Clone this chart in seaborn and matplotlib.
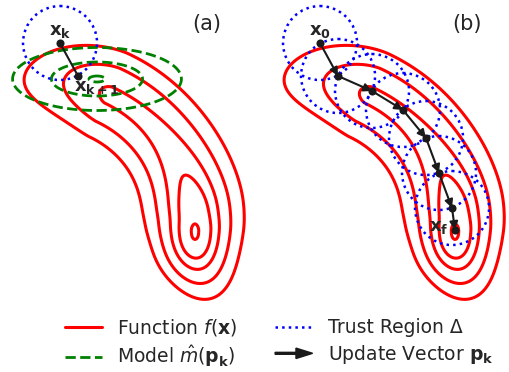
import numpy as np
import matplotlib
matplotlib.use("Agg")
import matplotlib.pyplot as plt
import seaborn as sns
from matplotlib.patches import Circle, FancyArrow
from matplotlib.lines import Line2D
from matplotlib.legend_handler import HandlerPatch

sns.set_theme(style="white")
plt.rcParams["font.family"] = ["DejaVu Sans"]
plt.rcParams["mathtext.fontset"] = "dejavusans"

# Both panels share one local frame (units ~ pixels, y pointing down).
# Objective: a curved valley that follows a circular arc, minimum at its lower end.
arc_center = (45.0, 231.0)
arc_radius = 150.0
f_levels = [16, 289, 676, 1444, 2704]

# Quadratic model built around x_k (panel a)
model_center = (97.0, 79.0)
model_stretch = 2.68
model_levels = [9, 289, 992]

trust_radius = 37.0

# Single step in panel (a): x_k -> x_{k+1}
step_x = [60, 78]
step_y = [43, 76]

# Iterates in panel (b): x_0 ... x_f
path_x = [60, 78, 112, 143, 166, 179, 192, 195]
path_y = [43, 76, 91, 110, 138, 173, 208, 230]

RED, GREEN, BLUE = "#ff0000", "#008000", "#0000ff"


def objective(X, Y):
    cx, cy = arc_center
    r = np.hypot(X - cx, Y - cy)
    theta = np.arctan2(Y - cy, X - cx)
    upper = Y <= cy
    # along-valley coordinate: arc length above the minimum, tangent
    # continuation below it; across-valley offset from the valley floor
    s = np.where(upper, arc_radius * theta,
                 arc_radius * (Y - cy) / np.maximum(X - cx, 5.0))
    sn = np.minimum(s, 0.0)
    sp = np.maximum(s, 0.0)
    d = np.where(upper, r - arc_radius,
                 X - (cx + arc_radius) + 0.001 * sp ** 2)
    width = 0.915 - 0.085 * np.tanh((s - 5.0) / 25.0)
    floor_up = (600.0 * (1 - np.exp(-(sn / 70.3) ** 2))
                + 0.25 * sn ** 2 * np.exp(-(sn / 15.0) ** 2)
                + 2.62 * np.maximum(-sn - 170.0, 0.0) ** 1.5)
    floor_dn = 0.0833 * sp ** 2.47
    return (d / width) ** 2 + floor_up + floor_dn


def model(X, Y):
    mx, my = model_center
    return ((X - mx) / model_stretch) ** 2 + (Y - my) ** 2


gx = np.linspace(-15, 265, 561)
gy = np.linspace(-5, 335, 681)
GX, GY = np.meshgrid(gx, gy)
F = objective(GX, GY)

fig = plt.figure(figsize=(5.10, 3.72), dpi=100)
ax_a = fig.add_axes([0.0, 0.0, 0.5, 1.0])
ax_b = fig.add_axes([0.5, 0.0, 0.5, 1.0])

for ax in (ax_a, ax_b):
    ax.contour(GX, GY, F, levels=f_levels, colors=RED, linewidths=2.2, zorder=1)

# ---- panel (a): one trust-region step
ax_a.contour(GX, GY, model(GX, GY), levels=model_levels, colors=GREEN,
             linestyles="--", linewidths=2.0, zorder=2)
ax_a.add_patch(Circle((step_x[0], step_y[0]), trust_radius, fill=False,
                      ec=BLUE, ls=":", lw=1.8, zorder=3))
sns.lineplot(x=step_x, y=step_y, sort=False, color="k", lw=1.5, ax=ax_a, zorder=4)
sns.scatterplot(x=step_x, y=step_y, color="k", s=34, linewidth=0, ax=ax_a, zorder=5)
ax_a.text(60, 31, r"$\mathbf{x_k}$", ha="center", va="center", fontsize=13, zorder=6)
ax_a.text(74, 87, r"$\mathbf{x_{k+1}}$", ha="left", va="center", fontsize=13, zorder=6)
ax_a.text(207, 24, "(a)", ha="center", va="center", fontsize=15)

# ---- panel (b): sequence of steps to the minimum
for cxp, cyp in zip(path_x[:-1], path_y[:-1]):
    ax_b.add_patch(Circle((cxp, cyp), trust_radius, fill=False,
                          ec=BLUE, ls=":", lw=1.8, zorder=3))
for i in range(len(path_x) - 1):
    ax_b.annotate("", xy=(path_x[i + 1], path_y[i + 1]),
                  xytext=(path_x[i], path_y[i]),
                  arrowprops=dict(arrowstyle="-|>", color="k", lw=1.5,
                                  mutation_scale=12, shrinkA=0, shrinkB=0),
                  zorder=4)
sns.scatterplot(x=path_x, y=path_y, color="k", s=34, linewidth=0, ax=ax_b, zorder=5)
ax_b.text(60, 31, r"$\mathbf{x_0}$", ha="center", va="center", fontsize=13, zorder=6)
ax_b.text(179, 227, r"$\mathbf{x_f}$", ha="center", va="center", fontsize=13, zorder=6)
ax_b.text(207, 24, "(b)", ha="center", va="center", fontsize=15)

ax_a.set_xlim(0, 255)
ax_b.set_xlim(-5, 250)
for ax in (ax_a, ax_b):
    ax.set_ylim(372, 0)
    ax.set_axis_off()


def make_arrow(legend, orig_handle, xdescent, ydescent, width, height, fontsize):
    return FancyArrow(-xdescent, -ydescent + height / 2, width, 0,
                      length_includes_head=True, width=1.4,
                      head_width=7.5, head_length=12, color="k")


handles = [
    Line2D([], [], color=RED, lw=2.2),
    Line2D([], [], color=GREEN, lw=2.0, ls="--"),
    Line2D([], [], color=BLUE, lw=1.8, ls=":"),
    FancyArrow(0, 0, 1, 0, color="k"),
]
labels = [
    r"Function $f(\mathbf{x})$",
    r"Model $\hat{m}(\mathbf{p_k})$",
    "Trust Region Δ",
    r"Update Vector $\mathbf{p_k}$",
]
fig.legend(handles, labels, ncol=2, loc="center", bbox_to_anchor=(0.547, 0.078),
           frameon=False, fontsize=13.5, handlelength=2.0, handletextpad=0.8,
           columnspacing=2.0, labelspacing=0.3,
           handler_map={FancyArrow: HandlerPatch(patch_func=make_arrow)})

fig.savefig("out.png", dpi=100)
